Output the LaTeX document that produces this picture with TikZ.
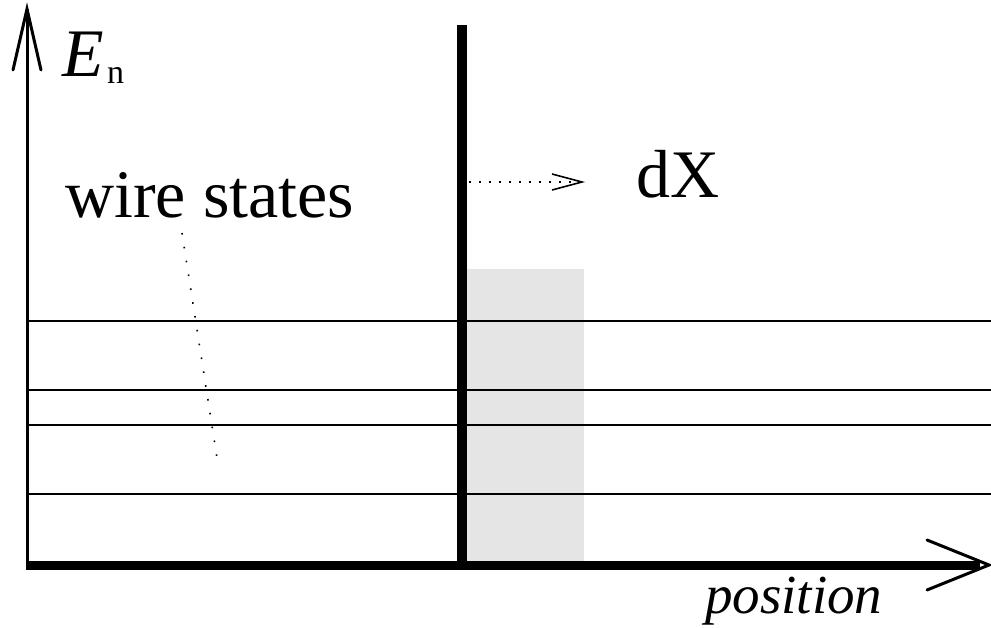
\documentclass[tikz,border=0pt]{standalone}
\usepackage{fontspec}
\setmainfont{Liberation Serif}
\begin{document}
\begin{tikzpicture}[x=1pt,y=-1pt,
  lbl/.style={inner sep=0pt,anchor=base west,font=\fontsize{68}{80}\selectfont},
  poslbl/.style={inner sep=0pt,anchor=base west,font=\fontsize{55}{66}\selectfont\itshape},
  sublbl/.style={inner sep=0pt,anchor=base west,font=\fontsize{34}{40}\selectfont},
  level/.style={line width=1.6pt},
  barb/.style={line width=3pt,line cap=round,line join=miter},
  dotline/.style={line width=1.6pt,dash pattern=on 1.6pt off 12.4pt},
  dotarrow/.style={line width=1.6pt,dash pattern=on 1.6pt off 8.4pt}]
\useasboundingbox (0,0) rectangle (991,628);
% gray region
\fill[gray!20] (467,269) rectangle (584,561);
% energy levels
\foreach \yy/\nm in {321/la,390/lb,425/lc,494/ld}{
  \coordinate (\nm-w) at (27,\yy);
  \coordinate (\nm-e) at (991,\yy);
  \draw[level] (\nm-w) -- (\nm-e);
}
% y axis
\coordinate (yb) at (27,567);
\coordinate (yt) at (27,9);
\draw[line width=3pt] (yb) -- (yt);
\draw[barb] (13,70) -- (yt) -- (41,70);
% x axis
\coordinate (xb) at (26,565);
\coordinate (xt) at (989,565);
\draw[line width=9pt] (xb) -- (980,565);
\draw[barb] (927,540) -- (xt) -- (927,590);
% wall
\coordinate (wt) at (462,25);
\coordinate (wb) at (462,561);
\draw[line width=10pt] (wt) -- (wb);
% texts
\node[lbl] (en) at (62,77) {\itshape E};
\node[sublbl] (ensub) at (107,84) {n};
\node[lbl] (ws) at (65,218) {wire states};
\node[lbl] (dx) at (636,198) {dX};
\node[poslbl] (pos) at (705,613) {position};
% dotted pointer
\coordinate (ws-a) at (182,233);
\coordinate (ws-b) at (217,458);
\draw[dotline] (ws-a) -- (ws-b);
% dotted arrow
\coordinate (da) at (469,182);
\coordinate (db) at (582,182);
\draw[dotarrow] (da) -- (db);
\draw[line width=1.6pt] (552,174) -- (db) -- (552,190);
\end{tikzpicture}
\end{document}
